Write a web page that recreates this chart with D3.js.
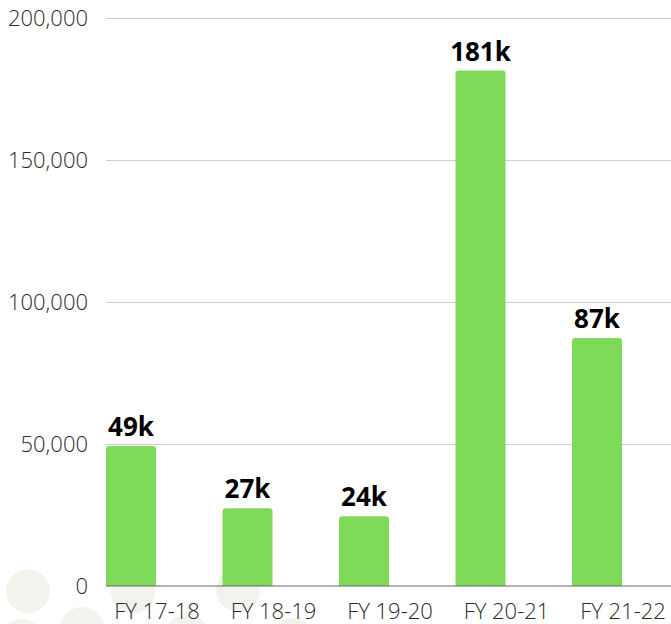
<!DOCTYPE html>
<html>
<head>
<meta charset="utf-8">
<script src="https://cdn.jsdelivr.net/npm/d3@7"></script>
<style>
  body { margin: 0; background: #fff; }
  svg { display: block; font-family: "Open Sans", sans-serif; }
  .grid line { stroke: #cccccc; stroke-width: 1; }
  .grid path { display: none; }
  .tick-label { font-size: 22px; font-weight: 300; fill: #2a2a2a; }
  .bar-label { font-size: 26px; font-weight: 700; fill: #000; }
</style>
</head>
<body>
<div id="chart"></div>
<script>
// data
var years = ["FY 17-18", "FY 18-19", "FY 19-20", "FY 20-21", "FY 21-22"];
var counts = [49300, 27400, 24600, 181500, 87300];
var barLabels = ["49k", "27k", "24k", "181k", "87k"];
var yTicks = [0, 50000, 100000, 150000, 200000];

// faint background dots in the bottom-left corner
var dots = [[28, 591], [133, 592], [238, 590], [82, 629], [22, 641], [187, 636], [292, 640], [137, 648]];

var width = 671, height = 624;
var margin = { top: 18, right: 0, bottom: 38, left: 106 };

var svg = d3.select("#chart").append("svg")
    .attr("width", width)
    .attr("height", height);

svg.append("g").selectAll("circle")
    .data(dots)
    .enter().append("circle")
    .attr("cx", function(d) { return d[0]; })
    .attr("cy", function(d) { return d[1]; })
    .attr("r", 22)
    .attr("fill", "#f3f3ee");

var x = d3.scaleBand()
    .domain(years)
    .range([margin.left, 622])
    .paddingInner(0.5708)
    .paddingOuter(0);

var y = d3.scaleLinear()
    .domain([0, 200000])
    .range([height - margin.bottom, margin.top]);

// gridlines
svg.append("g")
    .attr("class", "grid")
    .attr("transform", "translate(" + margin.left + ",0)")
    .call(d3.axisRight(y).tickValues(yTicks.slice(1)).tickSize(width - margin.left).tickFormat(""));

// y tick labels
svg.append("g").selectAll("text")
    .data(yTicks)
    .enter().append("text")
    .attr("class", "tick-label")
    .attr("x", 88)
    .attr("y", function(d) { return y(d); })
    .attr("dy", "0.35em")
    .attr("text-anchor", "end")
    .text(d3.format(","));

// bars with rounded tops
var r = 3;
svg.append("g").selectAll("path")
    .data(counts)
    .enter().append("path")
    .attr("fill", "#80da5a")
    .attr("d", function(d, i) {
        var x0 = x(years[i]), w = x.bandwidth(), y0 = y(d), y1 = y(0);
        return "M" + x0 + "," + y1 +
            "V" + (y0 + r) +
            "Q" + x0 + "," + y0 + " " + (x0 + r) + "," + y0 +
            "H" + (x0 + w - r) +
            "Q" + (x0 + w) + "," + y0 + " " + (x0 + w) + "," + (y0 + r) +
            "V" + y1 + "Z";
    });

// baseline
svg.append("line")
    .attr("x1", margin.left)
    .attr("x2", width)
    .attr("y1", y(0))
    .attr("y2", y(0))
    .attr("stroke", "#666")
    .attr("stroke-width", 1.2);

// value labels
svg.append("g").selectAll("text")
    .data(counts)
    .enter().append("text")
    .attr("class", "bar-label")
    .attr("x", function(d, i) { return x(years[i]) + x.bandwidth() / 2; })
    .attr("y", function(d) { return y(d) - 10; })
    .attr("text-anchor", "middle")
    .text(function(d, i) { return barLabels[i]; });

// x labels
svg.append("g").selectAll("text")
    .data(years)
    .enter().append("text")
    .attr("class", "tick-label")
    .attr("x", function(d) { return x(d) + x.bandwidth() / 2 + 26; })
    .attr("y", 619)
    .attr("text-anchor", "middle")
    .text(function(d) { return d; });
</script>
</body>
</html>
